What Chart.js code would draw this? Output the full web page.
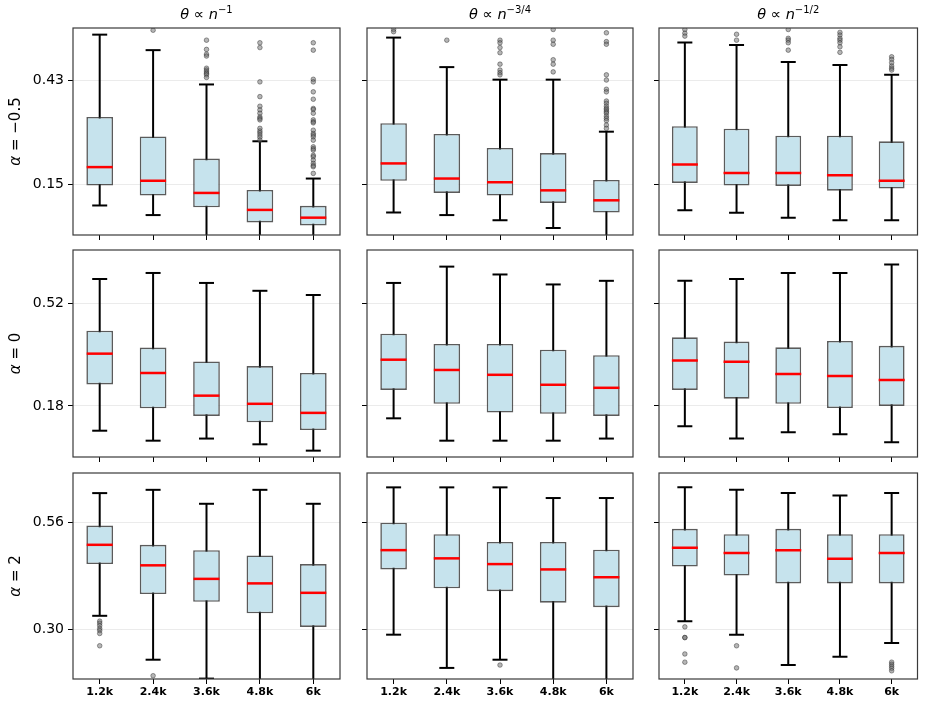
<!DOCTYPE html>
<html>
<head>
<meta charset="utf-8">
<script src="https://cdn.jsdelivr.net/npm/chart.js@4.4.1/dist/chart.umd.min.js"></script>
<style>
  html, body { margin: 0; padding: 0; background: #fff; }
  #wrap { position: relative; width: 933px; height: 703px; }
  #wrap canvas { position: absolute; left: 0; top: 0; }
</style>
</head>
<body>
<div id="wrap"></div>
<script>
const sizes = ['1.2k', '2.4k', '3.6k', '4.8k', '6k']

// panel order: row (alpha) by row, column (theta) left to right
const whiskerLo = [
  [0.092, 0.066, -0.05, -0.05, -0.05],
  [0.073, 0.066, 0.052, 0.031, -0.05],
  [0.079, 0.072, 0.059, 0.052, 0.052],
  [0.098, 0.065, 0.072, 0.053, 0.032],
  [0.139, 0.065, 0.065, 0.065, 0.072],
  [0.113, 0.072, 0.093, 0.086, 0.060],
  [0.333, 0.226, 0.180, 0.12, 0.12],
  [0.287, 0.206, 0.226, 0.12, 0.12],
  [0.320, 0.287, 0.213, 0.233, 0.267]
]
const boxQ1 = [
  [0.146, 0.119, 0.087, 0.046, 0.038],
  [0.159, 0.126, 0.119, 0.099, 0.073],
  [0.153, 0.146, 0.145, 0.132, 0.138],
  [0.251, 0.172, 0.147, 0.126, 0.100],
  [0.233, 0.187, 0.158, 0.154, 0.147],
  [0.233, 0.204, 0.187, 0.173, 0.180],
  [0.459, 0.386, 0.367, 0.339, 0.306],
  [0.446, 0.400, 0.393, 0.365, 0.354],
  [0.453, 0.431, 0.412, 0.412, 0.412]
]
const boxMed = [
  [0.196, 0.159, 0.126, 0.080, 0.059],
  [0.206, 0.165, 0.155, 0.133, 0.106],
  [0.203, 0.180, 0.180, 0.174, 0.159],
  [0.353, 0.289, 0.214, 0.187, 0.157],
  [0.333, 0.299, 0.283, 0.250, 0.240],
  [0.330, 0.326, 0.286, 0.279, 0.266],
  [0.506, 0.456, 0.423, 0.412, 0.389],
  [0.493, 0.473, 0.459, 0.446, 0.427],
  [0.499, 0.486, 0.493, 0.472, 0.486]
]
const boxQ3 = [
  [0.332, 0.279, 0.219, 0.134, 0.091],
  [0.315, 0.286, 0.248, 0.234, 0.161],
  [0.307, 0.300, 0.281, 0.281, 0.266],
  [0.429, 0.373, 0.327, 0.312, 0.289],
  [0.419, 0.385, 0.385, 0.366, 0.348],
  [0.407, 0.393, 0.374, 0.395, 0.379],
  [0.553, 0.506, 0.493, 0.480, 0.459],
  [0.560, 0.532, 0.513, 0.513, 0.494],
  [0.545, 0.532, 0.545, 0.532, 0.532]
]
const whiskerHi = [
  [0.555, 0.513, 0.420, 0.266, 0.165],
  [0.547, 0.467, 0.433, 0.433, 0.292],
  [0.534, 0.527, 0.481, 0.473, 0.446],
  [0.600, 0.620, 0.587, 0.561, 0.547],
  [0.587, 0.641, 0.615, 0.582, 0.594],
  [0.594, 0.600, 0.620, 0.620, 0.648],
  [0.632, 0.640, 0.606, 0.640, 0.606],
  [0.646, 0.646, 0.646, 0.620, 0.620],
  [0.646, 0.640, 0.632, 0.626, 0.632]
]
const outliers = [
  [[], [0.567],
   [0.540, 0.515, 0.502, 0.497, 0.464, 0.459, 0.454, 0.450, 0.446, 0.439],
   [0.533, 0.520, 0.427, 0.387, 0.361, 0.351, 0.342, 0.332, 0.328, 0.324, 0.301, 0.294, 0.289, 0.283, 0.277, 0.269],
   [0.533, 0.513, 0.434, 0.427, 0.400, 0.380, 0.355, 0.352, 0.342, 0.324, 0.319, 0.316, 0.296, 0.287, 0.283, 0.278, 0.269, 0.251, 0.246, 0.242, 0.228, 0.224, 0.215, 0.206, 0.200, 0.197, 0.179]],
  [[0.569, 0.563], [0.540],
   [0.540, 0.533, 0.520, 0.506, 0.475, 0.459, 0.452, 0.446],
   [0.569, 0.540, 0.529, 0.487, 0.475, 0.454],
   [0.560, 0.536, 0.529, 0.446, 0.432, 0.407, 0.400, 0.375, 0.369, 0.361, 0.355, 0.351, 0.346, 0.342, 0.334, 0.328, 0.322, 0.310, 0.301]],
  [[0.569, 0.559, 0.551], [0.556, 0.540],
   [0.569, 0.545, 0.540, 0.533, 0.513],
   [0.561, 0.554, 0.545, 0.540, 0.533, 0.522, 0.507],
   [0.495, 0.488, 0.479, 0.470, 0.464, 0.459]],
  [[], [], [], [], []],
  [[], [], [], [], []],
  [[], [], [], [], []],
  [[0.320, 0.315, 0.309, 0.302, 0.297, 0.290, 0.260], [0.187], [], [], []],
  [[], [], [0.213], [], []],
  [[0.306, 0.280, 0.280, 0.240, 0.220], [0.260, 0.206], [], [], [0.220, 0.215, 0.210, 0.205, 0.199]]
]

const rowMin = [0.012, 0.011, 0.179]
const rowMax = [0.573, 0.696, 0.681]
const rowTicks = [[0.15, 0.43], [0.18, 0.52], [0.30, 0.56]]

const colTitles = [
  [{t: 'θ', i: true}, {t: ' ∝ '}, {t: 'n', i: true}, {t: '−1', sup: true}],
  [{t: 'θ', i: true}, {t: ' ∝ '}, {t: 'n', i: true}, {t: '−3/4', sup: true}],
  [{t: 'θ', i: true}, {t: ' ∝ '}, {t: 'n', i: true}, {t: '−1/2', sup: true}]
]
const rowLabels = [
  [{t: 'α', i: true}, {t: ' = −0.5'}],
  [{t: 'α', i: true}, {t: ' = 0'}],
  [{t: 'α', i: true}, {t: ' = 2'}]
]

// page layout of the panels
const W = 933, H = 703
const colLeft = [73, 367, 659]
const colRight = [340, 633, 926]
const rowTop = [28, 250, 473]
const rowBottom = [235, 457, 679]
const yAxisW = 40
const xAxisH = 22
const FONT = '"DejaVu Sans", sans-serif'

function drawRich(ctx, segs, x, y, size, rot) {
  const fonts = segs.map(s => (s.i ? 'italic ' : '') + (s.sup ? Math.round(size * 0.72) : size) + 'px ' + FONT)
  const widths = segs.map((s, k) => { ctx.font = fonts[k]; return ctx.measureText(s.t).width })
  const total = widths.reduce((a, b) => a + b, 0)
  ctx.save()
  ctx.translate(x, y)
  ctx.rotate(rot)
  ctx.fillStyle = '#000'
  ctx.textBaseline = 'alphabetic'
  let cx = -total / 2
  segs.forEach((s, k) => {
    ctx.font = fonts[k]
    ctx.fillText(s.t, cx, size * 0.36 - (s.sup ? size * 0.42 : 0))
    cx += widths[k]
  })
  ctx.restore()
}

const framePlugin = {
  id: 'frame',
  afterDraw(chart) {
    const {ctx, chartArea: a} = chart
    const {row, col} = chart.options.plugins.frame
    ctx.save()
    ctx.strokeStyle = '#3a3a3a'
    ctx.lineWidth = 1.2
    ctx.strokeRect(a.left, a.top, a.right - a.left, a.bottom - a.top)
    ctx.restore()
    if (row === 0) {
      drawRich(ctx, colTitles[col], (a.left + a.right) / 2, 14, 14.5, 0)
    }
    if (col === 0) {
      drawRich(ctx, rowLabels[row], 15, (a.top + a.bottom) / 2, 15, -Math.PI / 2)
    }
  }
}

const wrap = document.getElementById('wrap')

for (let k = 0; k < 9; k++) {
  const row = Math.floor(k / 3)
  const col = k % 3
  const canvas = document.createElement('canvas')
  canvas.width = W
  canvas.height = H
  wrap.appendChild(canvas)

  const outPts = []
  outliers[k].forEach((vals, i) => vals.forEach(v => outPts.push({x: sizes[i], y: v})))

  new Chart(canvas, {
    type: 'bar',
    data: {
      labels: sizes,
      datasets: [
        {
          type: 'line',
          data: outPts,
          showLine: false,
          pointStyle: 'circle',
          pointRadius: 2.3,
          pointBackgroundColor: 'rgba(110,110,110,0.5)',
          pointBorderColor: 'rgba(40,40,40,0.5)',
          pointBorderWidth: 0.9,
          clip: 0,
          order: 0
        },
        {
          type: 'line',
          data: boxMed[k],
          showLine: false,
          pointStyle: 'line',
          pointRadius: 13,
          pointBorderWidth: 2.5,
          pointBorderColor: 'rgb(255,0,0)',
          clip: 0,
          order: 1
        },
        {
          type: 'line',
          data: whiskerHi[k],
          showLine: false,
          pointStyle: 'line',
          pointRadius: 7.5,
          pointBorderWidth: 2,
          pointBorderColor: '#000',
          clip: 0,
          order: 2
        },
        {
          type: 'line',
          data: whiskerLo[k],
          showLine: false,
          pointStyle: 'line',
          pointRadius: 7.5,
          pointBorderWidth: 2,
          pointBorderColor: '#000',
          clip: 0,
          order: 2
        },
        {
          type: 'bar',
          data: boxQ1[k].map((q, i) => [q, boxQ3[k][i]]),
          backgroundColor: 'rgb(198,227,237)',
          borderColor: 'rgba(50,50,50,0.8)',
          borderWidth: 1.6,
          borderSkipped: false,
          grouped: false,
          barPercentage: 0.5,
          categoryPercentage: 1,
          clip: 0,
          order: 3
        },
        {
          type: 'bar',
          data: whiskerLo[k].map((lo, i) => [lo, whiskerHi[k][i]]),
          backgroundColor: '#000',
          borderWidth: 0,
          grouped: false,
          maxBarThickness: 2,
          clip: 0,
          order: 4
        }
      ]
    },
    options: {
      responsive: false,
      animation: false,
      events: [],
      devicePixelRatio: 1,
      layout: {
        padding: {
          left: colLeft[col] - yAxisW,
          top: rowTop[row],
          right: W - colRight[col],
          bottom: H - rowBottom[row] - xAxisH
        }
      },
      plugins: {
        legend: {display: false},
        tooltip: {enabled: false},
        title: {display: false},
        frame: {row, col}
      },
      scales: {
        x: {
          afterFit: s => { s.height = xAxisH },
          border: {display: false},
          grid: {offset: false, drawOnChartArea: false, tickColor: '#000', tickLength: 5, tickWidth: 1},
          ticks: {
            callback: function (v) { return row === 2 ? this.getLabelForValue(v) : '' },
            font: {family: FONT, size: 11, weight: 'bold'},
            color: '#000',
            padding: 2,
            maxRotation: 0,
            autoSkip: false
          }
        },
        y: {
          min: rowMin[row],
          max: rowMax[row],
          afterBuildTicks: s => { s.ticks = rowTicks[row].map(v => ({value: v})) },
          afterFit: s => { s.width = yAxisW },
          border: {display: false},
          grid: {color: 'rgba(0,0,0,0.08)', tickColor: '#000', tickLength: 5, tickWidth: 1},
          ticks: {
            callback: v => col === 0 ? v.toFixed(2) : '',
            font: {family: FONT, size: 14},
            color: '#000',
            padding: 4
          }
        }
      }
    },
    plugins: [framePlugin]
  })
}
</script>
</body>
</html>
